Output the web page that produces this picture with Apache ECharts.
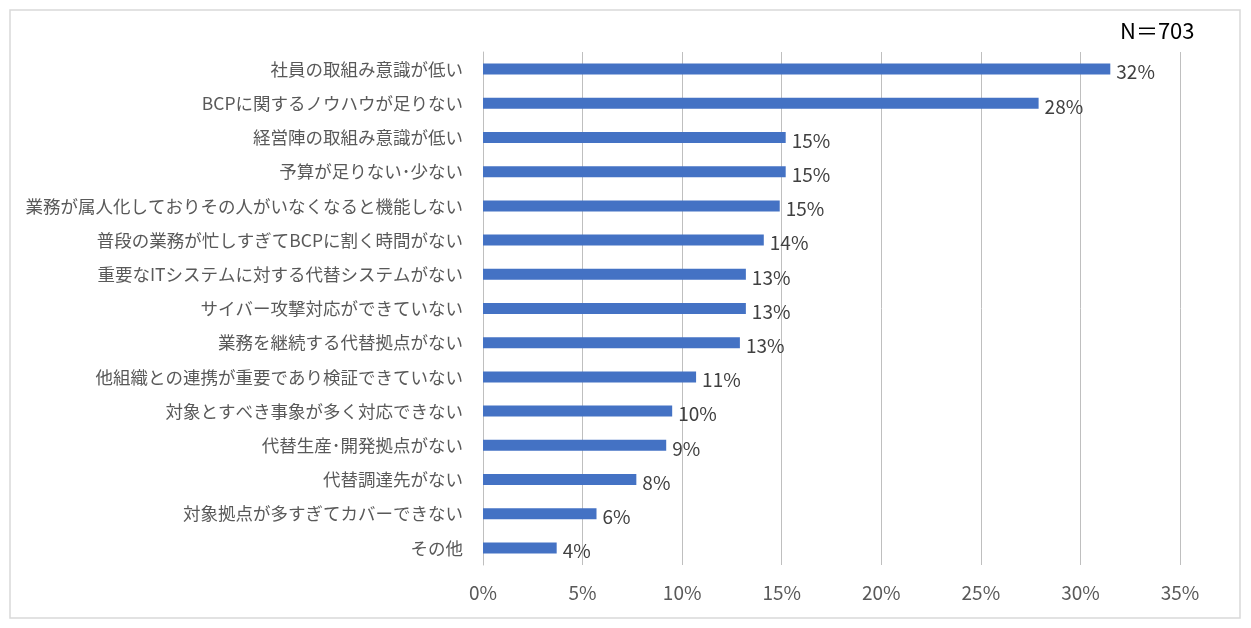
<!DOCTYPE html>
<html><head><meta charset="utf-8">
<script src="https://cdn.jsdelivr.net/npm/echarts@6/dist/echarts.min.js"></script>
<style>html,body{margin:0;background:#fff}</style>
</head><body>
<div id="main" style="width:1251px;height:628px;"></div>
<script>
var categories = [
  "社員の取組み意識が低い",
  "BCPに関するノウハウが足りない",
  "経営陣の取組み意識が低い",
  "予算が足りない･少ない",
  "業務が属人化しておりその人がいなくなると機能しない",
  "普段の業務が忙しすぎてBCPに割く時間がない",
  "重要なITシステムに対する代替システムがない",
  "サイバー攻撃対応ができていない",
  "業務を継続する代替拠点がない",
  "他組織との連携が重要であり検証できていない",
  "対象とすべき事象が多く対応できない",
  "代替生産･開発拠点がない",
  "代替調達先がない",
  "対象拠点が多すぎてカバーできない",
  "その他"
];
var values = [31.5, 27.9, 15.2, 15.2, 14.9, 14.1, 13.2, 13.2, 12.9, 10.7, 9.5, 9.2, 7.7, 5.7, 3.7];

var font = "'Noto Sans CJK JP', sans-serif";
var myChart = echarts.init(document.getElementById('main'));
var option = {
  animation: false,
  textStyle: { fontFamily: font },
  graphic: [
    { type: 'rect', shape: { x: 10, y: 10, width: 1230, height: 608 },
      style: { fill: 'none', stroke: '#d9d9d9', lineWidth: 1.5 } },
    { type: 'text', left: 1120, top: 20,
      style: { text: 'N＝703', fontSize: 22, fill: '#000', fontFamily: font } }
  ],
  grid: { left: 483, right: 71, top: 52, bottom: 63 },
  xAxis: {
    type: 'value', min: 0, max: 35, interval: 5,
    axisLabel: { formatter: function (v) { return v + '%'; }, fontSize: 19, color: '#595959', margin: 18 },
    splitLine: { lineStyle: { color: '#bfbfbf', width: 1 } },
    axisLine: { show: false }, axisTick: { show: false }
  },
  yAxis: {
    type: 'category', inverse: true, data: categories,
    axisLabel: { fontSize: 17.5, color: '#595959', margin: 20 },
    axisLine: { lineStyle: { color: '#bfbfbf' } }, axisTick: { show: false }
  },
  series: [{
    type: 'bar', data: values, barWidth: 11,
    itemStyle: { color: '#4472c4' },
    label: { show: true, position: 'right', fontSize: 19, color: '#404040', distance: 6,
      offset: [0, 3],
      formatter: function (p) { return Math.round(p.value) + '%'; } }
  }]
};
myChart.setOption(option);
</script>
</body></html>
